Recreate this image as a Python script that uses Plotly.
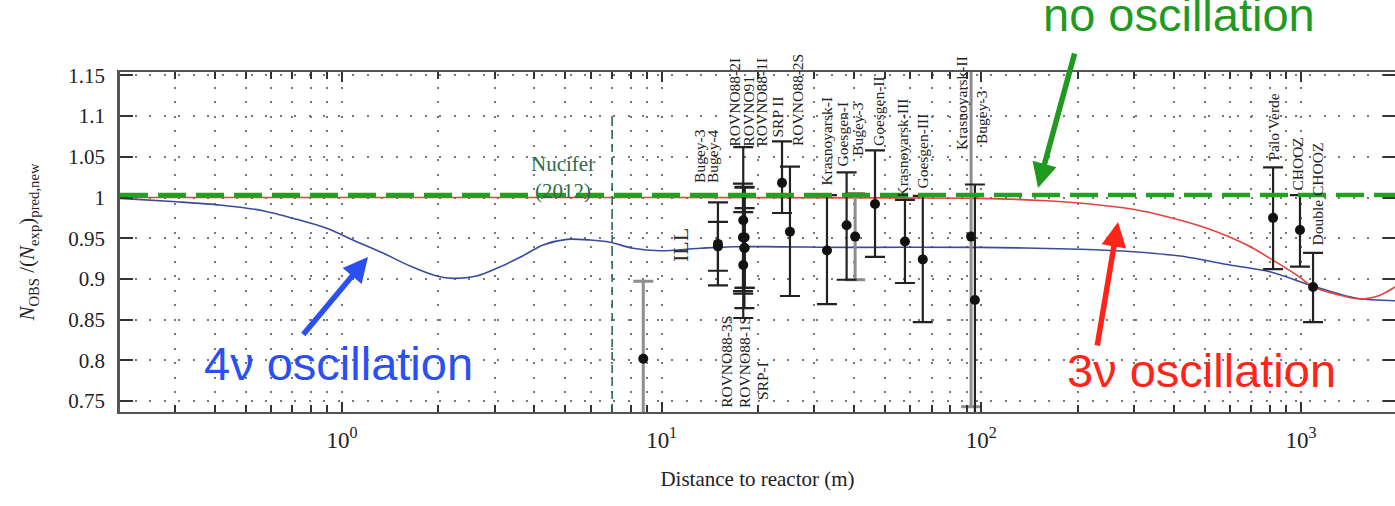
import math
import plotly.graph_objects as go

# ---------------- data ----------------
# reactor experiments: name, baseline (m), observed/predicted ratio, error up / down
black_names = ["Bugey-4", "Bugey-3", "ROVNO88-2I", "ROVNO91", "ROVNO88-1I", "ROVNO88-3S",
               "ROVNO88-1S", "SRP-I", "SRP II", "ROVNO88-2S", "Krasnoyarsk-I", "Goesgen-I",
               "Goesgen-II", "Krasnoyarsk-III", "Goesgen-III", "Bugey-3", "Palo Verde",
               "CHOOZ", "Double CHOOZ"]
black_dist = [15.0, 15.0, 17.96, 18.0, 18.0, 18.18, 18.15, 18.18, 23.8, 25.2, 32.9, 37.9,
              46.5, 57.7, 65.6, 95.5, 818.0, 993.0, 1091.0]
black_ratio = [0.943, 0.940, 0.951, 0.972, 0.917, 0.951, 0.938, 0.938, 1.018, 0.958, 0.935, 0.966,
               0.992, 0.946, 0.924, 0.874, 0.975, 0.960, 0.890]
black_err_up = [0.051, 0.030, 0.066, 0.090, 0.065, 0.062, 0.074, 0.049, 0.051, 0.080, 0.068, 0.065,
                0.066, 0.051, 0.078, 0.142, 0.062, 0.043, 0.042]
black_err_dn = [0.051, 0.030, 0.066, 0.090, 0.065, 0.062, 0.074, 0.049, 0.037, 0.079, 0.066, 0.067,
                0.065, 0.051, 0.077, 0.142, 0.063, 0.045, 0.043]

grey_names = ["ILL", "Bugey-3", "Krasnoyarsk-II"]
grey_dist = [8.76, 40.3, 92.9]
grey_ratio = [0.802, 0.952, 0.952]
grey_err = [0.095, 0.053, 0.209]

# 4-neutrino oscillation expectation
osc4_dist = [0.2021, 0.304, 0.415, 0.566, 0.722, 0.896, 1.112, 1.344, 1.632, 1.978, 2.225, 2.638,
             3.048, 3.605, 4.255, 5.047, 5.970, 6.893, 8.136, 9.88, 13.18, 16.72, 38.8, 99.1,
             203.6, 298.3, 418.5, 600.0, 800.3, 1091.0, 1497.0, 1969.0]
osc4_ratio = [0.999, 0.9948, 0.9908, 0.9838, 0.9732, 0.9622, 0.9457, 0.9318, 0.9158, 0.9036,
              0.9007, 0.9036, 0.913, 0.9265, 0.9416, 0.9486, 0.9478, 0.945, 0.9376, 0.9346,
              0.9376, 0.9396, 0.9388, 0.9388, 0.9364, 0.9334, 0.9281, 0.9171, 0.9088, 0.8913,
              0.8762, 0.8732]

# 3-neutrino oscillation expectation
osc3_dist = [0.2021, 1.0, 10.0, 55.7, 99.1, 160.5, 218.8, 298.3, 381.0, 508.0, 678.0, 817.0,
             993.0, 1091.0, 1325.0, 1530.0, 1767.0, 1969.0]
osc3_ratio = [1.0, 1.0, 1.0, 0.9995, 0.999, 0.996, 0.992, 0.9855, 0.9764, 0.9622, 0.9416, 0.923,
              0.902, 0.890, 0.880, 0.8753, 0.880, 0.890]

no_osc_level = 1.003
nucifer_dist = 7.0

x_tick_vals = [1, 10, 100, 1000]
x_tick_text = ["10<sup>0</sup>", "10<sup>1</sup>", "10<sup>2</sup>", "10<sup>3</sup>"]
x_minor_vals = [m * 10 ** e for e in range(-1, 4) for m in range(2, 10)]
y_tick_vals = [0.75, 0.8, 0.85, 0.9, 0.95, 1.0, 1.05, 1.1, 1.15]
y_tick_text = ["0.75", "0.8", "0.85", "0.9", "0.95", "1", "1.05", "1.1", "1.15"]

# experiment labels: text, distance, ratio at the text's lower end
top_labels = [("Bugey-3", 13.18, 1.0154), ("Bugey-4", 14.48, 1.0154),
              ("ROVNO88-2I", 16.96, 1.0608), ("ROVNO91", 18.76, 1.0608),
              ("ROVNO88-1I", 20.6, 1.0608), ("SRP II", 23.12, 1.0706),
              ("ROVNO88-2S", 26.5, 1.0608), ("Krasnoyarsk-I", 32.7, 1.0117),
              ("Goesgen-I", 36.9, 1.0362), ("Bugey-3", 40.8, 1.0485),
              ("Goesgen-II", 47.5, 1.0608), ("Krasnoyarsk-III", 56.5, 0.997),
              ("Goesgen-III", 65.7, 1.0092), ("Krasnoyarsk-II", 86.4, 1.0559),
              ("Bugey-3", 100.5, 1.0633), ("Palo Verde", 818.0, 1.0424),
              ("CHOOZ", 979.0, 1.0055), ("Double CHOOZ", 1123.0, 0.938)]
bottom_labels = [("ROVNO88-3S", 16.0, 0.739), ("ROVNO88-1S", 18.23, 0.739),
                 ("SRP-I", 20.75, 0.7488)]

# ---------------- layout geometry ----------------
W, H = 1395, 506
ML, MR, MT, MB = 120, 0, 72, 94
X_RANGE = [-0.6945, 3.2942]
Y_RANGE = [0.7365, 1.1542]
SERIF = "Liberation Serif"
SANS = "Liberation Sans"


def px(x):
    return (x - ML) / (W - ML - MR)


def py(y):
    return (H - MB - y) / (H - MT - MB)


fig = go.Figure()

fig.add_trace(go.Scatter(x=osc4_dist, y=osc4_ratio, mode="lines",
                         line=dict(color="#3a4b9c", width=1.6, shape="spline", smoothing=0.8),
                         hoverinfo="skip"))
fig.add_trace(go.Scatter(x=osc3_dist, y=osc3_ratio, mode="lines",
                         line=dict(color="#e8413c", width=1.6, shape="spline", smoothing=0.8),
                         hoverinfo="skip"))

fig.add_trace(go.Scatter(x=grey_dist, y=grey_ratio, mode="markers", text=grey_names,
                         marker=dict(color="#111", size=10),
                         error_y=dict(type="data", array=grey_err, color="#8e8e8e",
                                      thickness=3, width=10)))
fig.add_trace(go.Scatter(x=black_dist, y=black_ratio, mode="markers", text=black_names,
                         marker=dict(color="#111", size=10),
                         error_y=dict(type="data", symmetric=False, array=black_err_up,
                                      arrayminus=black_err_dn, color="#222",
                                      thickness=2.2, width=10)))
# invisible trace to hold the right-hand tick axis
fig.add_trace(go.Scatter(x=[1], y=[1], yaxis="y2", mode="markers",
                         marker=dict(opacity=0), hoverinfo="skip"))

# no-oscillation reference and Nucifer baseline
fig.add_hline(y=no_osc_level, line=dict(color="#22a022", width=4.5, dash="28px,10px"))
fig.add_shape(type="line", x0=nucifer_dist, x1=nucifer_dist, y0=Y_RANGE[0], y1=1.10,
              xref="x", yref="y", line=dict(color="#2d6a4a", width=1.6, dash="8px,5px"))

# annotations on a log axis take log10 positions
ann = []
label_font = dict(family=SERIF, size=15.5, color="#222")
for txt, d, r in top_labels + bottom_labels:
    ann.append(dict(x=math.log10(d), y=r, xref="x", yref="y", text=txt, textangle=-90,
                    showarrow=False, xanchor="center", yanchor="bottom", font=label_font))
ann.append(dict(x=math.log10(11.41), y=0.9416, xref="x", yref="y", text="ILL", textangle=-90,
                showarrow=False, xanchor="center", yanchor="middle",
                font=dict(family=SERIF, size=22, color="#2a2a2a")))
ann.append(dict(x=math.log10(4.91), y=1.0246, xref="x", yref="y", text="Nucifer<br>(2012)",
                showarrow=False, xanchor="center", yanchor="middle",
                font=dict(family=SERIF, size=21, color="#2d6a4a")))

# big captions with arrows
ann.append(dict(x=px(1179), y=py(15), xref="paper", yref="paper", text="no oscillation",
                showarrow=False, xanchor="center", yanchor="middle",
                font=dict(family=SANS, size=47, color="#1f9a1f")))
ann.append(dict(x=px(338), y=py(363), xref="paper", yref="paper", text="4ν oscillation",
                showarrow=False, xanchor="center", yanchor="middle",
                font=dict(family=SANS, size=47, color="#2b50f2")))
ann.append(dict(x=px(1201), y=py(370), xref="paper", yref="paper", text="3ν oscillation",
                showarrow=False, xanchor="center", yanchor="middle",
                font=dict(family=SANS, size=47, color="#ff2418")))
for (tipx, tipy, tailx, taily, col) in [(1038, 188, 1075, 52, "#1f9a1f"),
                                         (368, 257, 302, 336, "#2b50f2"),
                                         (1118, 222, 1097, 347, "#ff2418")]:
    ann.append(dict(x=px(tipx), y=py(tipy), xref="paper", yref="paper", text="",
                    showarrow=True, arrowhead=2, arrowsize=0.9, arrowwidth=5.5, arrowcolor=col,
                    ax=tailx - tipx, ay=taily - tipy, standoff=0))

grid_dash = "2px,12.5px"
fig.update_layout(
    width=W, height=H, margin=dict(l=ML, r=MR, t=MT, b=MB),
    plot_bgcolor="white", paper_bgcolor="white", showlegend=False,
    font=dict(family=SERIF, size=21, color="#222"),
    annotations=ann,
    xaxis=dict(type="log", range=X_RANGE, tickmode="array", tickvals=x_tick_vals,
               ticktext=x_tick_text, ticks="inside", ticklen=10, tickwidth=1.5, tickcolor="#333",
               showline=True, linecolor="#555", linewidth=2, mirror="ticks",
               showgrid=True, gridcolor="#777", gridwidth=1.5, griddash=grid_dash,
               zeroline=False, ticklabelstandoff=6,
               tickfont=dict(family=SERIF, size=23, color="#222"),
               minor=dict(tickmode="array", tickvals=x_minor_vals, ticks="inside", ticklen=7,
                          tickwidth=1.5, tickcolor="#333", showgrid=True, gridcolor="#777",
                          gridwidth=1.5, griddash=grid_dash),
               title=dict(text="Distance to reactor (m)", standoff=20,
                          font=dict(family=SERIF, size=21, color="#222"))),
    yaxis=dict(range=Y_RANGE, tickmode="array", tickvals=y_tick_vals, ticktext=y_tick_text,
               ticks="inside", ticklen=13, tickwidth=1.5, tickcolor="#333",
               showline=True, linecolor="#555", linewidth=2.5, mirror=False,
               showgrid=True, gridcolor="#777", gridwidth=1.5, griddash=grid_dash,
               zeroline=False, ticklabelstandoff=8,
               tickfont=dict(family=SERIF, size=21, color="#222"),
               title=dict(text="<i>N</i><sub>OBS</sub> /(<i>N</i><sub>exp</sub>)<sub>pred,new</sub>",
                          standoff=28, font=dict(family=SERIF, size=21, color="#222"))),
    yaxis2=dict(range=Y_RANGE, overlaying="y", side="right", tickmode="array",
                tickvals=y_tick_vals, ticks="inside", ticklen=12, tickwidth=1.5, tickcolor="#333",
                showticklabels=False, showgrid=False, showline=False, zeroline=False),
)

fig.write_html("out.html")
